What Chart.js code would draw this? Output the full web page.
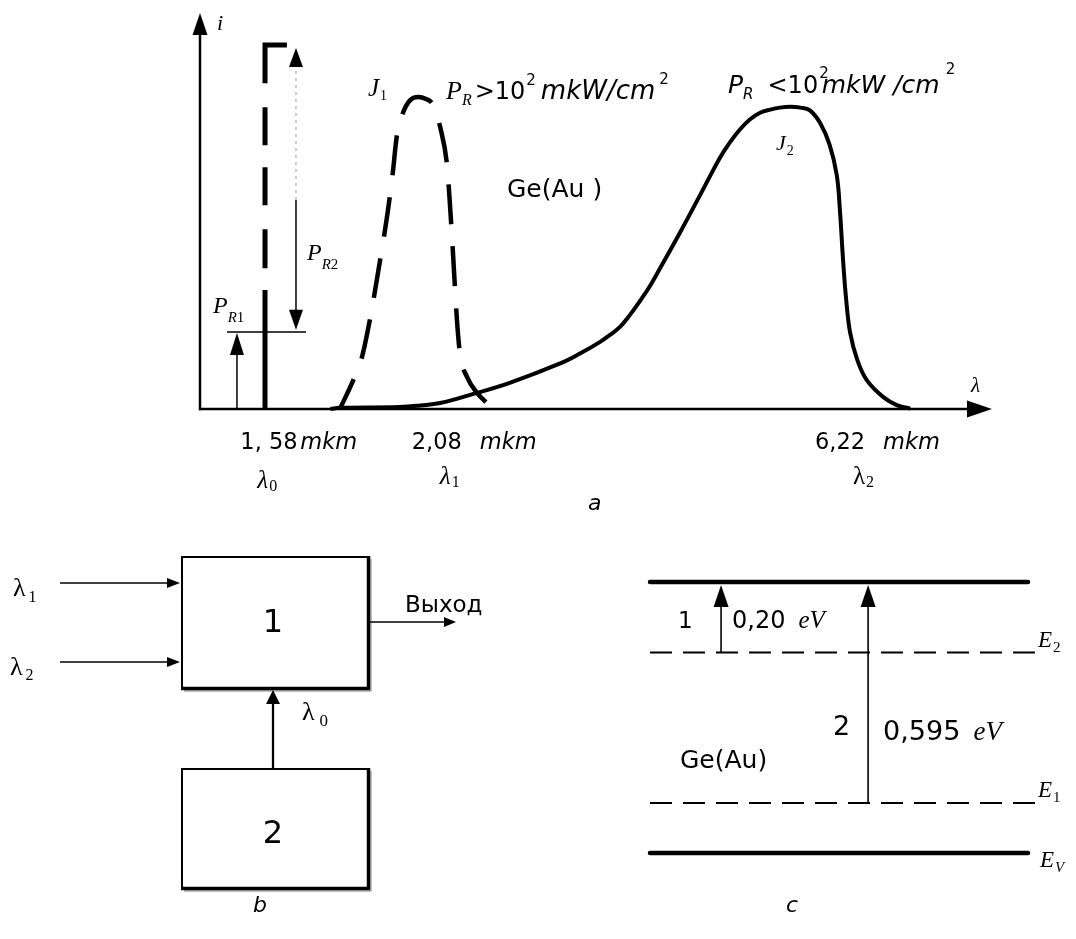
<!DOCTYPE html>
<html><head><meta charset="utf-8">
<script src="https://cdn.jsdelivr.net/npm/chart.js@4/dist/chart.umd.min.js"></script>
<style>
html,body{margin:0;padding:0;background:#fff;}
#wrap{position:relative;width:1076px;height:939px;overflow:hidden;background:#fff;}
canvas{position:absolute;left:0;}
#cA{top:0;}
#cB{top:530px;}
</style></head><body>
<div id="wrap"><canvas id="cA" width="1076" height="530"></canvas><canvas id="cB" width="1076" height="409"></canvas></div>
<script>
// ---------- Panel a data (arbitrary units) ----------
const j1X = [17.7,19.4,20.5,21.5,22.8,23.8,24.4,24.9,25.7,26.6,27.6,28.6,29.5,30.4,31.3,31.6,32.0,32.5,32.9,33.8,35.1,36.3];
const j1Y = [0,7.3,13.1,22.5,37.6,50.3,59.6,68.7,74.8,78.0,78.8,78.3,76.8,71.2,61.1,52.8,40.2,23.2,14.1,8.1,4.0,1.5];
const j2X = [16.5,17.7,25.3,27.9,30.4,34.6,39.2,45.6,48.1,50.6,51.9,53.2,54.4,55.7,57.0,58.2,60.8,63.3,65.8,67.1,68.4,69.6,70.9,72.2,73.4,74.7,76.0,77.2,78.5,79.7,80.6,81.0,81.4,81.8,82.3,83.2,84.4,86.5,88.2,89.9];
const j2Y = [0,0.3,0.5,0.9,1.5,3.8,6.6,11.5,14.0,16.9,18.7,20.8,23.7,27.3,31.2,35.4,44.7,54.0,63.4,67.4,70.7,73.1,74.8,75.6,76.1,76.3,76.1,75.4,72.2,66.7,59.1,50.3,37.6,27.5,19.2,12.4,7.3,3.0,1.0,0.1];
const pumpX = 8.23, pumpTop = 91.9, pumpSolidTop = 30.05, pumpFlagX = 11.0;
const pr1Level = 19.44, pr1LineX = [3.42, 13.42], pr1ArrowX = 4.68;
const pr2ArrowX = 12.15, pr2Bottom = 20.0, pr2Split = 52.8, pr2Top = 91.16;
const lambdaTickX = [8.9, 32.0, 84.3];
const lambdaTickNum = ['1, 58', '2,08', '6,22'];
const lambdaTickSub = ['0', '1', '2'];

// ---------- Panel c data (energy levels, eV) ----------
const levelNames = ['C', '2', '1', 'V'];
const levelValues = [0.73, 0.54, 0.135, 0];
const levelDashed = [false, true, true, false];
const transX = [0.188, 0.577];
const transFrom = [0.54, 0.135];
const transTo = [0.73, 0.73];
const transNum = ['1', '2'];
const transEnergy = ['0,20', '0,595'];

const SANS = '"DejaVu Sans"', SERIF = '"Liberation Serif"';
function pts(xs, ys){ return xs.map((x,i)=>({x:x, y:ys[i]})); }
function rich(ctx, x, y, segs){
  segs.forEach(s=>{
    x += (s.gap||0);
    ctx.font = s.f;
    ctx.fillText(s.t, x, y + (s.dy||0));
    x += ctx.measureText(s.t).width;
  });
  return x;
}
function head(ctx, tx, ty, dx, dy, len, hw){
  const bx = tx - dx*len, by = ty - dy*len;
  ctx.beginPath();
  ctx.moveTo(tx, ty);
  ctx.lineTo(bx - dy*hw, by + dx*hw);
  ctx.lineTo(bx + dy*hw, by - dx*hw);
  ctx.closePath(); ctx.fill();
}
function seg(ctx, x1, y1, x2, y2){ ctx.beginPath(); ctx.moveTo(x1,y1); ctx.lineTo(x2,y2); ctx.stroke(); }

// ---------- Chart A ----------
const plugA = {
  id:'panelA',
  afterDatasetsDraw(chart){
    const ctx = chart.ctx, ca = chart.chartArea, xs = chart.scales.x, ys = chart.scales.y;
    const X = v=>xs.getPixelForValue(v), Y = v=>ys.getPixelForValue(v);
    ctx.save();
    ctx.strokeStyle = '#000'; ctx.fillStyle = '#000'; ctx.lineCap = 'butt';
    const yb = Y(0);
    ctx.lineWidth = 2.5;
    seg(ctx, ca.left, yb + 1.2, ca.left, ca.top + 18);
    head(ctx, ca.left, ca.top, 0, -1, 22, 7.5);
    seg(ctx, ca.left - 1, yb, ca.right - 15, yb);
    head(ctx, ca.right + 2, yb, 1, 0, 25, 8.5);
    ctx.lineWidth = 1.5;
    seg(ctx, X(pr1ArrowX), yb, X(pr1ArrowX), Y(pr1Level) + 18);
    head(ctx, X(pr1ArrowX), Y(pr1Level) + 1, 0, -1, 22, 7);
    seg(ctx, X(pr2ArrowX), Y(pr2Split), X(pr2ArrowX), Y(pr2Bottom) - 16);
    head(ctx, X(pr2ArrowX), Y(pr2Bottom), 0, 1, 20, 7);
    ctx.save();
    ctx.strokeStyle = '#aaa'; ctx.lineWidth = 1.2; ctx.setLineDash([3,4]);
    seg(ctx, X(pr2ArrowX), Y(pr2Split), X(pr2ArrowX), Y(pr2Top) + 16);
    ctx.restore();
    head(ctx, X(pr2ArrowX), Y(pr2Top), 0, -1, 19, 7);

    ctx.textBaseline = 'alphabetic'; ctx.textAlign = 'left';
    rich(ctx, ca.left + 17, ca.top + 17, [{t:'i', f:'italic 22px '+SERIF}]);
    rich(ctx, ca.right - 19, yb - 17, [{t:'λ', f:'italic 21px '+SERIF}]);
    rich(ctx, 368, 96, [{t:'J', f:'italic 25px '+SERIF},{t:'1', f:'14px '+SERIF, dy:4, gap:1}]);
    rich(ctx, 446, 99, [
      {t:'P', f:'italic 26px '+SERIF},
      {t:'R', f:'italic 16px '+SERIF, dy:6},
      {t:'>10', f:'24px '+SANS, gap:3},
      {t:'2', f:'15px '+SANS, dy:-14, gap:1},
      {t:'mkW/cm', f:'italic 26px '+SANS, gap:5},
      {t:'2', f:'15px '+SANS, dy:-15, gap:4}
    ]);
    rich(ctx, 728, 93, [
      {t:'P', f:'italic 25px '+SANS},
      {t:'R', f:'italic 15px '+SANS, dy:6},
      {t:'<10', f:'24px '+SANS, gap:14},
      {t:'2', f:'15px '+SANS, dy:-15, gap:1},
      {t:'mkW', f:'italic 25px '+SANS, gap:-7},
      {t:' /cm', f:'italic 25px '+SANS},
      {t:'2', f:'15px '+SANS, dy:-19, gap:6}
    ]);
    rich(ctx, 507, 197, [{t:'Ge(Au )', f:'25px '+SANS}]);
    rich(ctx, 776, 150, [{t:'J', f:'italic 22px '+SERIF},{t:'2', f:'14px '+SERIF, dy:5, gap:1}]);
    rich(ctx, 213, 313, [{t:'P', f:'italic 24px '+SERIF},{t:'R', f:'italic 15px '+SERIF, dy:9},{t:'1', f:'15px '+SERIF, dy:9}]);
    rich(ctx, 307, 260, [{t:'P', f:'italic 24px '+SERIF},{t:'R', f:'italic 15px '+SERIF, dy:9},{t:'2', f:'15px '+SERIF, dy:9}]);
    const numOff = [-30, -41, -51], mkmOff = [30, 27, 17], lamItal = [true, true, false];
    lambdaTickX.forEach((v,i)=>{
      const px = X(v);
      rich(ctx, px + numOff[i], yb + 40, [{t:lambdaTickNum[i], f:'22.5px '+SANS}]);
      rich(ctx, px + mkmOff[i], yb + 40, [{t:'mkm', f:'italic 22.5px '+SANS}]);
      const ly = [79, 75, 75][i];
      rich(ctx, px - 13, yb + ly, [{t:'λ', f:(lamItal[i]?'italic ':'')+'25px '+SERIF},{t:lambdaTickSub[i], f:'16px '+SERIF, dy:3, gap:1}]);
    });
    rich(ctx, 588, 510, [{t:'a', f:'italic 22px '+SANS}]);
    ctx.restore();
  }
};

new Chart(document.getElementById('cA'), {
  type:'scatter',
  data:{datasets:[
    {data:pts(j2X,j2Y), showLine:true, borderColor:'#000', borderWidth:4, pointRadius:0, tension:0.4, borderJoinStyle:'round', clip:false},
    {data:pts(j1X,j1Y), showLine:true, borderColor:'#000', borderWidth:4.5, pointRadius:0, cubicInterpolationMode:'monotone', borderDash:[40,22], borderDashOffset:7, clip:false},
    {data:[{x:pumpX,y:0},{x:pumpX,y:pumpSolidTop}], showLine:true, borderColor:'#000', borderWidth:5, pointRadius:0, tension:0, clip:false},
    {data:[{x:pumpFlagX,y:pumpTop},{x:pumpX,y:pumpTop},{x:pumpX,y:pumpSolidTop}], showLine:true, borderColor:'#000', borderWidth:5, pointRadius:0, tension:0, borderDash:[60,24,38,22,38,24,39,22], borderJoinStyle:'miter', clip:false},
    {data:[{x:pr1LineX[0],y:pr1Level},{x:pr1LineX[1],y:pr1Level}], showLine:true, borderColor:'#000', borderWidth:1.5, pointRadius:0, tension:0, clip:false}
  ]},
  options:{
    responsive:false, animation:false, devicePixelRatio:1,
    layout:{padding:{left:200, right:86, top:13, bottom:121}},
    scales:{x:{type:'linear', min:0, max:100, display:false}, y:{type:'linear', min:0, max:100, display:false}},
    plugins:{legend:{display:false}, tooltip:{enabled:false}, title:{display:false}}
  },
  plugins:[plugA]
});

// ---------- Chart B (panels b and c) ----------
const plugB = {
  id:'panelBC',
  afterDatasetsDraw(chart){
    const ctx = chart.ctx, xs = chart.scales.x, ys = chart.scales.y;
    const X = v=>xs.getPixelForValue(v), Y = v=>ys.getPixelForValue(v);
    ctx.save();
    ctx.strokeStyle = '#000'; ctx.fillStyle = '#000';
    function box(x, y, w, h){
      ctx.strokeStyle = '#000'; ctx.lineWidth = 2;
      ctx.strokeRect(x, y, w, h);
      ctx.lineWidth = 3.5;
      seg(ctx, x + w + 0.5, y - 1, x + w + 0.5, y + h + 1.5);
      seg(ctx, x - 1, y + h + 0.5, x + w + 2, y + h + 0.5);
      ctx.strokeStyle = 'rgba(0,0,0,0.35)'; ctx.lineWidth = 1.5;
      seg(ctx, x + w + 3, y + 2, x + w + 3, y + h + 3);
      seg(ctx, x + 2, y + h + 3, x + w + 3, y + h + 3);
      ctx.strokeStyle = '#000';
    }
    box(182, 27, 186, 131);
    box(182, 239, 186, 119);
    ctx.lineWidth = 1.5;
    seg(ctx, 60, 53, 170, 53); head(ctx, 180, 53, 1, 0, 13, 5);
    seg(ctx, 60, 132, 170, 132); head(ctx, 180, 132, 1, 0, 13, 5);
    seg(ctx, 370, 92, 446, 92); head(ctx, 456, 92, 1, 0, 12, 5);
    ctx.lineWidth = 2.3;
    seg(ctx, 273, 239, 273, 172); head(ctx, 273, 160, 0, -1, 14, 7);
    ctx.textAlign = 'center';
    rich(ctx, 273, 102, [{t:'1', f:'32px '+SANS}]);
    rich(ctx, 273, 313, [{t:'2', f:'32px '+SANS}]);
    ctx.textAlign = 'left';
    rich(ctx, 405, 82, [{t:'Выход', f:'23px '+SANS}]);
    rich(ctx, 13, 66, [{t:'λ', f:'26px '+SERIF},{t:'1', f:'16px '+SERIF, dy:6, gap:3}]);
    rich(ctx, 10, 145, [{t:'λ', f:'26px '+SERIF},{t:'2', f:'16px '+SERIF, dy:5, gap:3}]);
    rich(ctx, 302, 190, [{t:'λ', f:'26px '+SERIF},{t:'0', f:'17px '+SERIF, dy:6, gap:5}]);
    rich(ctx, 253, 382, [{t:'b', f:'italic 22px '+SANS}]);

    ctx.lineWidth = 1.6;
    transX.forEach((tx,i)=>{
      const px = X(tx), y0 = Y(transFrom[i]), y1 = Y(transTo[i]) + 3;
      seg(ctx, px, y0, px, y1 + 18);
      head(ctx, px, y1, 0, -1, 22, 7.5);
    });
    const t1x = X(transX[0]), t1y = (Y(transFrom[0]) + Y(transTo[0]))/2;
    rich(ctx, t1x - 43, t1y + 11, [{t:transNum[0], f:'23px '+SANS}]);
    rich(ctx, t1x + 11, t1y + 11, [{t:transEnergy[0], f:'24px '+SANS},{t:'eV', f:'italic 25px '+SERIF, gap:13}]);
    const t2x = X(transX[1]);
    rich(ctx, t2x - 35, Y(transTo[1]) + 153, [{t:transNum[1], f:'27px '+SANS}]);
    rich(ctx, t2x + 15, Y(transTo[1]) + 158, [{t:transEnergy[1], f:'27px '+SANS},{t:'eV', f:'italic 27px '+SERIF, gap:13}]);
    rich(ctx, 680, 238, [{t:'Ge(Au)', f:'25px '+SANS}]);
    levelNames.forEach((n,i)=>{
      if(n === 'C') return;
      const y = Y(levelValues[i]);
      const x = X(1) + (n === 'V' ? 12 : 10);
      const by = n === 'V' ? y + 14 : y - 6;
      rich(ctx, x, by, [{t:'E', f:'italic 23px '+SERIF},{t:n, f:(n==='V'?'italic ':'')+'15px '+SERIF, dy:5, gap:1}]);
    });
    rich(ctx, 786, 382, [{t:'c', f:'italic 22px '+SANS}]);
    ctx.restore();
  }
};

new Chart(document.getElementById('cB'), {
  type:'scatter',
  data:{datasets: levelValues.map((v,i)=>({
    data:[{x:0,y:v},{x:levelDashed[i]?1.032:1,y:v}],
    showLine:true, borderColor:'#000', pointRadius:0, tension:0, clip:false,
    borderWidth: levelDashed[i] ? 2 : 4.5,
    borderDash: levelDashed[i] ? [22,11] : [],
    borderCapStyle: levelDashed[i] ? 'butt' : 'round'
  }))},
  options:{
    responsive:false, animation:false, devicePixelRatio:1,
    layout:{padding:{left:650, right:48, top:52, bottom:86}},
    scales:{x:{type:'linear', min:0, max:1, display:false}, y:{type:'linear', min:0, max:0.73, display:false}},
    plugins:{legend:{display:false}, tooltip:{enabled:false}, title:{display:false}}
  },
  plugins:[plugB]
});
</script>
</body></html>
